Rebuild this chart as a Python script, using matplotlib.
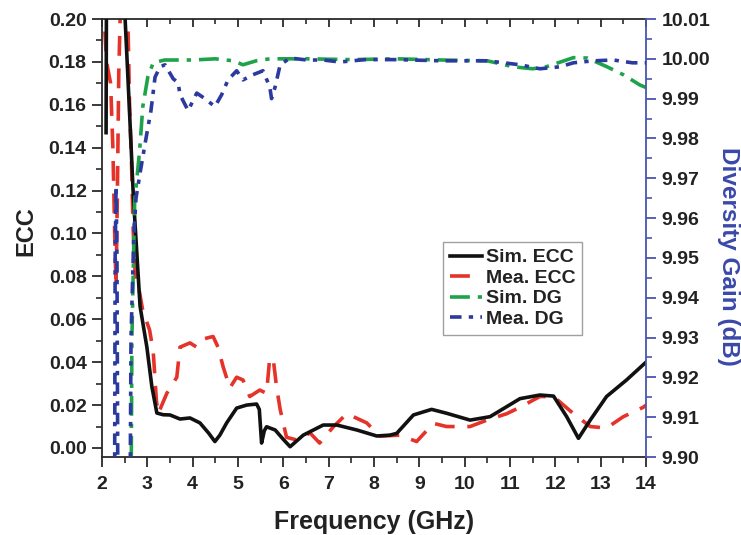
import matplotlib
matplotlib.use("Agg")
import matplotlib.pyplot as plt
from matplotlib.ticker import MultipleLocator, FormatStrFormatter

plt.rcParams['font.family'] = ['Liberation Sans', 'DejaVu Sans']
plt.rcParams['font.weight'] = 'bold'

# ---------------- data ----------------
sim_ecc_f = [2.09, 2.11, 2.30, 2.51, 2.60, 2.69, 2.84, 2.99, 3.10, 3.21, 3.35, 3.50, 3.72,
             3.94, 4.16, 4.35, 4.49, 4.60, 4.75, 4.97, 5.19, 5.41, 5.47, 5.52, 5.58, 5.63,
             5.82, 6.00, 6.15, 6.44, 6.88, 7.18, 7.62, 8.06, 8.35, 8.50, 8.87, 9.27, 9.60,
             10.12, 10.56, 10.93, 11.22, 11.66, 11.96, 12.25, 12.51, 12.77, 13.13, 13.57, 14.00]
sim_ecc = [0.147, 0.30, 0.30, 0.20, 0.16, 0.118, 0.066, 0.047, 0.0286, 0.0163, 0.0155, 0.0154,
           0.0135, 0.014, 0.0117, 0.007, 0.003, 0.006, 0.0117, 0.0186, 0.020, 0.0205, 0.018,
           0.0023, 0.008, 0.0099, 0.0084, 0.004, 0.0006, 0.006, 0.0107, 0.0107, 0.0084, 0.0056,
           0.006, 0.0068, 0.0154, 0.018, 0.0162, 0.013, 0.0146, 0.0193, 0.023, 0.0247, 0.0242,
           0.0146, 0.0045, 0.013, 0.024, 0.0317, 0.040]

mea_ecc_f = [2.03, 2.05, 2.10, 2.19, 2.24, 2.28, 2.31, 2.34, 2.37, 2.40, 2.45, 2.55, 2.58, 2.61,
             2.65, 2.68, 2.70, 2.74, 2.79, 2.90, 3.05, 3.13, 3.20, 3.24, 3.43, 3.65, 3.72, 3.94,
             4.09, 4.27, 4.45, 4.56, 4.67, 4.82, 4.97, 5.11, 5.26, 5.48, 5.63, 5.70, 5.78, 5.85,
             5.93, 6.07, 6.30, 6.59, 6.80, 7.10, 7.40, 7.84, 8.13, 8.57, 8.94, 9.31, 9.60, 10.12,
             10.49, 10.93, 11.22, 11.66, 11.96, 12.40, 12.77, 13.13, 13.50, 13.94, 14.00]
mea_ecc = [0.25, 0.20, 0.18, 0.17, 0.14, 0.10, 0.075, 0.12, 0.175, 0.20, 0.25, 0.22, 0.19, 0.158,
           0.134, 0.108, 0.094, 0.078, 0.077, 0.064, 0.055, 0.045, 0.022, 0.016, 0.0255, 0.033,
           0.047, 0.049, 0.047, 0.051, 0.052, 0.047, 0.038, 0.028, 0.033, 0.0317, 0.024, 0.027,
           0.0255, 0.042, 0.041, 0.0285, 0.018, 0.005, 0.0037, 0.007, 0.0023, 0.0098, 0.016,
           0.0117, 0.0055, 0.006, 0.003, 0.0115, 0.010, 0.010, 0.013, 0.016, 0.019, 0.024, 0.024,
           0.016, 0.010, 0.0093, 0.0146, 0.019, 0.020]

sim_dg_f = [2.60, 2.66, 2.72, 2.83, 2.90, 3.01, 3.13, 3.38, 4.00, 4.50, 4.90, 5.11, 5.40, 5.70,
            6.50, 7.50, 8.50, 9.50, 10.50, 11.07, 11.50, 11.80, 12.40, 12.70, 13.14, 13.50,
            13.87, 14.00]
sim_dg = [9.80, 9.93, 9.964, 9.977, 9.988, 9.9954, 9.999, 9.9997, 9.9997, 10.0, 9.9995, 9.9985,
          9.9995, 10.0, 10.0, 9.9998, 10.0, 9.9997, 9.9995, 9.998, 9.9975, 9.998, 10.0003,
          10.0002, 9.998, 9.996, 9.9934, 9.9928]

mea_dg_f = [2.20, 2.27, 2.29, 2.31, 2.33, 2.36, 2.45, 2.60, 2.64, 2.70, 2.75, 2.85, 2.97, 3.08,
            3.17, 3.28, 3.39, 3.57, 3.68, 3.72, 3.90, 4.09, 4.27, 4.49, 4.64, 4.78, 4.97, 5.11,
            5.33, 5.55, 5.70, 5.74, 5.82, 5.93, 6.15, 6.52, 6.88, 7.25, 7.80, 8.50, 9.50, 10.50,
            11.22, 11.66, 12.10, 12.40, 12.84, 13.28, 13.70, 14.00]
mea_dg = [9.80, 9.85, 9.95, 9.968, 9.95, 9.86, 9.80, 9.85, 9.93, 9.955, 9.965, 9.972, 9.98, 9.987,
          9.9954, 9.998, 9.9985, 9.995, 9.994, 9.991, 9.987, 9.9914, 9.990, 9.988, 9.991, 9.9947,
          9.997, 9.9947, 9.996, 9.997, 9.993, 9.990, 9.993, 9.9985, 10.0002, 9.9997, 9.9997,
          9.9992, 9.9998, 9.9998, 9.9995, 9.9995, 9.9985, 9.9975, 9.998, 9.999, 9.9995, 9.9997,
          9.999, 9.999]

x_ticks = [2, 3, 4, 5, 6, 7, 8, 9, 10, 11, 12, 13, 14]
labels = ["Sim. ECC", "Mea. ECC", "Sim. DG", "Mea. DG"]

# ---------------- figure ----------------
fig = plt.figure(figsize=(7.41, 5.35), dpi=100)
ax = fig.add_axes([102 / 741, 1 - 457 / 535, 544 / 741, 438 / 535])
ax2 = ax.twinx()

axis_col = '#2a2a2a'
blue_ax = '#4a55b0'

l1, = ax.plot(sim_ecc_f, sim_ecc, color='#111111', lw=2.6, solid_joinstyle='round', zorder=3)
l2, = ax.plot(mea_ecc_f, mea_ecc, color='#e63329', lw=2.6, zorder=2)
l2.set_dashes((5.5, 3.5))
l3, = ax2.plot(sim_dg_f, sim_dg, color='#1fa34a', lw=2.6, zorder=2)
l3.set_dashes((5.5, 2.2, 1.2, 2.2))
l4, = ax2.plot(mea_dg_f, mea_dg, color='#2b3a9e', lw=2.6, zorder=3)
l4.set_dashes((3.2, 2.0, 1.2, 2.0))

ax.set_xlim(2, 14)
ax.set_ylim(-0.0042, 0.20)
ax2.set_ylim(9.90, 10.01)

ax.set_xticks(x_ticks)
ax.xaxis.set_minor_locator(MultipleLocator(0.5))
ax.yaxis.set_major_locator(MultipleLocator(0.02))
ax.yaxis.set_minor_locator(MultipleLocator(0.01))
ax.yaxis.set_major_formatter(FormatStrFormatter('%.2f'))
ax2.yaxis.set_major_locator(MultipleLocator(0.01))
ax2.yaxis.set_minor_locator(MultipleLocator(0.005))
ax2.yaxis.set_major_formatter(FormatStrFormatter('%.2f'))

for s in ['left', 'bottom', 'top']:
    ax.spines[s].set_color(axis_col)
    ax.spines[s].set_linewidth(1.3)
ax.spines['right'].set_visible(False)
for s in ['left', 'bottom', 'top']:
    ax2.spines[s].set_visible(False)
ax2.spines['right'].set_color(blue_ax)
ax2.spines['right'].set_linewidth(1.3)

ax.tick_params(which='major', direction='out', length=7, width=1.3, color=axis_col,
               labelsize=14, labelcolor='#222222', pad=4)
ax.tick_params(axis='x', which='major', pad=7)
ax.tick_params(which='minor', direction='out', length=4, width=1.2, color=axis_col)
ax2.tick_params(which='major', direction='out', length=7, width=1.3, color=blue_ax,
                labelsize=14, labelcolor='#222222', pad=4)
ax2.tick_params(which='minor', direction='out', length=4, width=1.2, color=blue_ax)

top = ax.secondary_xaxis('top')
top.set_xticks(x_ticks)
top.xaxis.set_minor_locator(MultipleLocator(0.5))
top.tick_params(which='major', direction='in', length=6, width=1.3, color=axis_col, labeltop=False)
top.tick_params(which='minor', direction='in', length=3.5, width=1.2, color=axis_col)
top.spines['top'].set_visible(False)

for t in ax.get_xticklabels() + ax.get_yticklabels() + ax2.get_yticklabels():
    t.set_fontweight('bold')

ax.set_xlabel("Frequency (GHz)", fontsize=18, fontweight='bold', color='#222222', labelpad=12)
ax.set_ylabel("ECC", fontsize=17, fontweight='bold', color='#222222')
ax.yaxis.set_label_coords(-0.118, 0.515)
ax2.set_ylabel("Diversity Gain (dB)", fontsize=17.5, fontweight='bold', color='#3a48a8',
               rotation=270, ha='center', va='center')
ax2.yaxis.set_label_coords(1.152, 0.457)

leg = ax2.legend([l1, l2, l3, l4], labels, loc='upper left', bbox_to_anchor=(0.627, 0.491),
                 borderaxespad=0, prop={'weight': 'bold', 'size': 14},
                 frameon=True, fancybox=False, handlelength=1.65, handletextpad=0.2,
                 labelspacing=0.15, borderpad=0.35)
leg.get_frame().set_edgecolor('#888888')
leg.get_frame().set_linewidth(1.0)
for t in leg.get_texts():
    t.set_color('#222222')

fig.savefig("out.png", dpi=100, facecolor='white')
